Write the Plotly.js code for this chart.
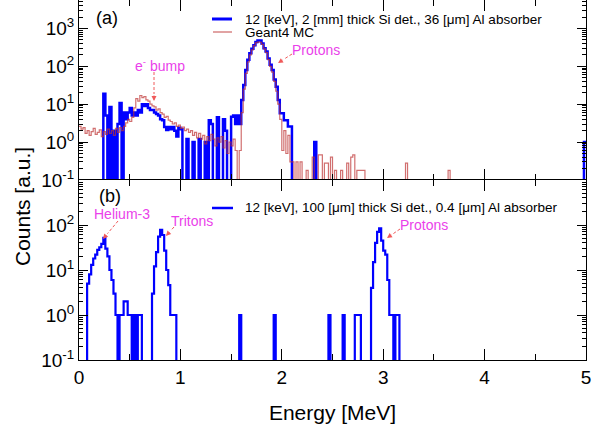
<!DOCTYPE html>
<html><head><meta charset="utf-8">
<script src="https://cdn.plot.ly/plotly-3.0.1.min.js"></script>
<style>html,body{margin:0;padding:0;background:#fff}#chart{width:604px;height:426px}</style>
</head><body><div id="chart"></div>
<script>
// ---------------- data ----------------
const binWidth = 0.02;            // MeV
const energyMax = 5;

// (a) measurement: 12 keV, 2 mm Si, 36 um Al  (dense from 0.20 MeV, 0.02 MeV bins)
const measA_E0 = 0.20;
const measA_counts = [
  0, 0, 19, 5, 0,
  8.5, 0, 2, 0, 3,
  10.7, 0, 6, 4, 6,
  8, 5, 6, 5, 7,
  6, 10, 9, 10, 8,
  7, 7, 6, 5.5, 5,
  4, 3.8, 2.5, 2.1, 2.5,
  2.2, 2.5, 2, 1.4, 2.4,
  2.2, 0, 0, 1.2, 0,
  0, 1, 0, 0, 1.2,
  0, 0, 1, 0, 3.8,
  3, 0, 0, 4.5, 0,
  0, 4, 2, 0, 0,
  4.7, 5, 3, 5, 3,
  13, 32, 80, 150, 220,
  290, 360, 440, 480, 480,
  400, 300, 245, 160, 110,
  80, 45, 29, 13, 5.8,
  5.8, 3.8, 3.8, 2.6, 2.6
];
const measA_spikeE = [2.32, 4.98];
const measA_spikeN = [1, 1];

// (a) Geant4 MC (dense from 0.00 MeV)
const mcA_E0 = 0.00;
const mcA_counts = [
  2.6, 2.2, 2.4, 1.7, 2.0,
  1.5, 1.9, 2.3, 1.6, 1.8,
  2.1, 1.4, 1.9, 1.6, 2.2,
  1.7, 2.0, 1.5, 2.3, 1.8,
  2.4, 2.0, 2.6, 3.2, 4.0,
  3.5, 4.5, 8, 14, 12,
  17, 15, 16, 13, 12,
  10, 9, 8.5, 7, 7.5,
  6, 5.5, 4.5, 4.8, 3.8,
  3.5, 3.0, 3.2, 2.6, 2.8,
  2.3, 2.5, 2.0, 2.2, 1.8,
  2.0, 1.5, 1.8, 1.3, 1.7,
  1.2, 1.5, 0.9, 1.4, 1.1,
  1.6, 1.2, 0.8, 1.3, 1.0,
  1.4, 0.7, 1.1, 0.5, 1.0,
  0.8, 1.2, 0.6, 0, 0.6,
  6, 25, 65, 130, 200,
  270, 350, 420, 440, 430,
  380, 290, 230, 150, 100,
  70, 40, 22, 10, 4,
  0.6, 2, 0.5, 1.5, 0.3,
  0.3, 0, 0.3, 0, 0.3
];
const mcA_spikeE = [2.24, 2.30, 2.36, 2.38, 2.42, 2.44, 2.48, 2.52, 2.58, 2.64, 2.68, 2.70, 2.74, 2.76, 2.78, 2.80, 3.22, 3.64];
const mcA_spikeN = [0.18, 0.4, 0.46, 0.46, 0.28, 0.28, 0.4, 0.18, 0.18, 0.28, 0.4, 0.46, 0.18, 0.18, 0.18, 0.18, 0.28, 0.18];

// (b) measurement: 12 keV, 100 um Si, 0.4 um Al
const measB_E0 = 0.00;
const measB_counts = [
  0, 0, 0, 0, 5,
  8, 13, 18, 22, 28,
  32, 38, 52, 30, 20,
  10, 6, 3, 1, 0,
  1, 1, 2, 2, 1,
  1, 0, 1, 0, 1,
  1, 0, 0, 0, 0,
  0, 3, 12, 25, 55,
  78, 60, 27, 10, 4.6,
  1, 1, 1, 0, 0
];
const measB_spikeE = [1.58, 1.92, 2.46, 2.60, 2.72, 2.74, 2.76];
const measB_spikeN = [1, 1, 1, 1, 1, 1, 1];
const measB_pE0 = 2.80;
const measB_pCounts = [
  0, 0, 0, 0, 4,
  15, 40, 70, 84, 45,
  27, 22, 6, 1, 1,
  0, 1, 1
];

const xTickVals = [0, 1, 2, 3, 4, 5];
const xMinorVals = [0.5, 1.5, 2.5, 3.5, 4.5];
const yTickValsA = [0.1, 1, 10, 100, 1000];
const yTickTextA = ['10<sup>-1</sup>', '10<sup>0</sup>', '10<sup>1</sup>', '10<sup>2</sup>', '10<sup>3</sup>'];
const yTickValsB = [0.1, 1, 10, 100];
const yTickTextB = ['10<sup>-1</sup>', '10<sup>0</sup>', '10<sup>1</sup>', '10<sup>2</sup>'];

const legendA1 = '12 [keV], 2 [mm] thick Si det., 36 [\u03bcm] Al absorber';
const legendA2 = 'Geant4 MC';
const legendB1 = '12 [keV], 100 [\u03bcm] thick Si det., 0.4 [\u03bcm] Al absorber';

// ---------------- helpers ----------------
function buildHist(segments, spikeE, spikeN) {
  const n = Math.round(energyMax / binWidth);
  const h = new Array(n).fill(0);
  segments.forEach(([e0, arr]) => {
    const s = Math.round(e0 / binWidth);
    arr.forEach((v, i) => { if (s + i < n) h[s + i] = v; });
  });
  spikeE.forEach((e, i) => { h[Math.round(e / binWidth)] = spikeN[i]; });
  const xs = [], ys = [];
  h.forEach((v, i) => {
    const y = v > 0 ? v : 1e-4;
    xs.push(i * binWidth, (i + 1) * binWidth);
    ys.push(y, y);
  });
  return {xs, ys};
}
const hA = buildHist([[measA_E0, measA_counts]], measA_spikeE, measA_spikeN);
const hMC = buildHist([[mcA_E0, mcA_counts]], mcA_spikeE, mcA_spikeN);
const hB = buildHist([[measB_E0, measB_counts], [measB_pE0, measB_pCounts]], measB_spikeE, measB_spikeN);

const minorLog = [];
for (let d = -1; d <= 3; d++) for (let k = 2; k <= 9; k++) minorLog.push(k * Math.pow(10, d));

// pixel -> paper conversion for decorations (plot area 79..586 x 0..360)
const L = 79, R = 586, T = 0, B = 360;
const px = x => (x - L) / (R - L);
const py = y => (B - y) / (B - T);

const FONT = 'Liberation Sans, Arial, Helvetica, sans-serif';
const MAG = '#ea3fea';
const ARR = '#f05a5a';

const traces = [
  {x: hA.xs, y: hA.ys, xaxis: 'x', yaxis: 'y', mode: 'lines', line: {color: '#0000ff', width: 2.5}, hoverinfo: 'skip'},
  {x: hMC.xs, y: hMC.ys, xaxis: 'x', yaxis: 'y', mode: 'lines', line: {color: 'rgba(190,50,50,0.7)', width: 1.2}, hoverinfo: 'skip'},
  {x: hB.xs, y: hB.ys, xaxis: 'x2', yaxis: 'y2', mode: 'lines', line: {color: '#0000ff', width: 2.2}, hoverinfo: 'skip'}
];

const shapes = [];
const annotations = [];

function arrow(x0, y0, x1, y1) {
  // dashed shaft + small solid head
  const dx = x1 - x0, dy = y1 - y0, len = Math.hypot(dx, dy);
  const hx = x1 - dx / len * 7, hy = y1 - dy / len * 7;
  shapes.push({type: 'line', xref: 'paper', yref: 'paper', x0: px(x0), y0: py(y0), x1: px(hx), y1: py(hy),
    line: {color: ARR, width: 1, dash: '3px,2px'}});
  annotations.push({xref: 'paper', yref: 'paper', x: px(x1), y: py(y1), ax: hx - x1, ay: hy - y1,
    axref: 'pixel', ayref: 'pixel', text: '', showarrow: true, arrowhead: 2, arrowsize: 1, arrowwidth: 1, arrowcolor: ARR});
}
function label(x, y, text, size, color, anchor) {
  annotations.push({xref: 'paper', yref: 'paper', x: px(x), y: py(y), text: text, showarrow: false,
    xanchor: anchor || 'center', yanchor: 'middle', font: {family: FONT, size: size, color: color}});
}

// legends
shapes.push({type: 'line', xref: 'paper', yref: 'paper', x0: px(212), x1: px(232), y0: py(19), y1: py(19), line: {color: '#0000ff', width: 3}});
shapes.push({type: 'line', xref: 'paper', yref: 'paper', x0: px(213), x1: px(232), y0: py(32), y1: py(32), line: {color: 'rgba(190,50,50,0.75)', width: 1.2}});
shapes.push({type: 'line', xref: 'paper', yref: 'paper', x0: px(212), x1: px(233), y0: py(208), y1: py(208), line: {color: '#0000ff', width: 2.5}});
label(243, 19, legendA1, 13.5, '#000', 'left');
label(243, 32, legendA2, 13.5, '#000', 'left');
label(243, 208, legendB1, 13.5, '#000', 'left');

// panel tags
label(107, 18, '(a)', 18, '#000');
label(110, 196, '(b)', 18, '#000');

// physics annotations
label(160, 65, 'e<sup>-</sup> bump', 14, MAG);
arrow(154, 72, 154, 101);
label(316, 50, 'Protons', 14, MAG);
arrow(292, 54, 278, 63);
label(122, 214, 'Helium-3', 14, MAG);
arrow(118, 221, 103, 239);
label(192, 221, 'Tritons', 14, MAG);
arrow(174, 227, 166, 236);
label(424, 225, 'Protons', 14, MAG);
arrow(400, 229, 387, 238);

// shared y title
annotations.push({xref: 'paper', yref: 'paper', x: px(23), y: py(207), text: 'Counts [a.u.]', showarrow: false,
  textangle: -90, xanchor: 'center', yanchor: 'middle', font: {family: FONT, size: 21, color: '#000'}});

const axCommon = {showgrid: false, zeroline: false, ticks: 'inside', tickcolor: '#000', tickwidth: 1,
  linecolor: '#000', linewidth: 1, tickfont: {family: FONT, size: 19, color: '#000'}};

const layout = {
  width: 604, height: 426,
  margin: {l: L, r: 604 - R, t: T, b: 426 - B},
  paper_bgcolor: '#fff', plot_bgcolor: '#fff',
  showlegend: false,
  font: {family: FONT, color: '#000'},
  xaxis: Object.assign({}, axCommon, {domain: [0, 1], anchor: 'y', range: [0, 5], tickmode: 'array', tickvals: xTickVals,
    showticklabels: false, ticklen: 11, showline: false, mirror: 'ticks',
    minor: {tickmode: 'array', tickvals: xMinorVals, ticks: 'inside', ticklen: 6, tickcolor: '#000', showgrid: false}}),
  yaxis: Object.assign({}, axCommon, {domain: [0.5, 1], anchor: 'x', type: 'log', range: [-1, 3.75], tickmode: 'array',
    tickvals: yTickValsA, ticktext: yTickTextA, ticklen: 9, showline: true, mirror: 'ticks',
    minor: {tickmode: 'array', tickvals: minorLog, ticks: 'inside', ticklen: 4, tickcolor: '#000', showgrid: false}}),
  xaxis2: Object.assign({}, axCommon, {domain: [0, 1], anchor: 'y2', range: [0, 5], tickmode: 'array', tickvals: xTickVals,
    ticklen: 11, showline: true, mirror: 'ticks',
    title: {text: 'Energy [MeV]', font: {family: FONT, size: 21, color: '#000'}, standoff: 18},
    minor: {tickmode: 'array', tickvals: xMinorVals, ticks: 'inside', ticklen: 6, tickcolor: '#000', showgrid: false}}),
  yaxis2: Object.assign({}, axCommon, {domain: [0, 0.5], anchor: 'x2', type: 'log', range: [-1, 3], tickmode: 'array',
    tickvals: yTickValsB, ticktext: yTickTextB, ticklen: 9, showline: true, mirror: 'ticks',
    minor: {tickmode: 'array', tickvals: minorLog, ticks: 'inside', ticklen: 4, tickcolor: '#000', showgrid: false}}),
  shapes: shapes,
  annotations: annotations
};

Plotly.newPlot('chart', traces, layout, {staticPlot: true, displayModeBar: false});
</script>
</body></html>
